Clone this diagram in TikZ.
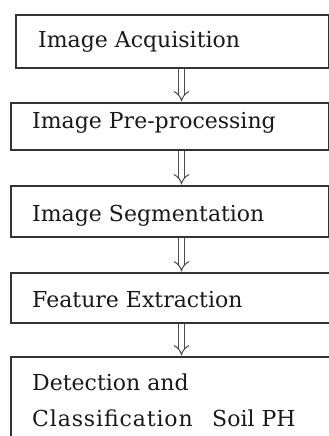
\documentclass[tikz,border=0pt]{standalone}
\usepackage{fontspec}
\setmainfont{DejaVu Serif}
\usetikzlibrary{arrows.meta}
\begin{document}
\begin{tikzpicture}[x=1pt,y=-1pt,
  stagebox/.style={draw=black!80, line width=1.6pt, anchor=north west, inner sep=0pt, rectangle},
  label/.style={anchor=base west, inner sep=0pt, font=\fontsize{22}{25}\selectfont, text=black!90},
  flow/.style={draw=black!70, line width=1pt, double=white, double distance=4.5pt, -{Implies}, shorten >=0.5pt}
]
\useasboundingbox (0,0) rectangle (329,436);
\clip (0,0) rectangle (329,436);
\node[stagebox, minimum width=313pt, minimum height=53pt] (b1) at (15,14) {};
\node[stagebox, minimum width=318pt, minimum height=47pt] (b2) at (10,102) {};
\node[stagebox, minimum width=318pt, minimum height=51pt] (b3) at (10,185) {};
\node[stagebox, minimum width=330pt, minimum height=50pt] (b4) at (10,272) {};
\node[stagebox, minimum width=330pt, minimum height=94pt] (b5) at (10,356) {};
\node[label] (t1) at (38,48) {Image Acquisition};
\node[label] (t2) at (32,128) {Image Pre-processing};
\node[label] (t3) at (32,221) {Image Segmentation};
\node[label] (t4) at (32,307) {Feature Extraction};
\node[label] (t5) at (32,390) {Detection and};
\node[label] (t6) at (32,426) {\addfontfeature{LetterSpace=4}Classification};
\node[label] (t7) at (212,426) {Soil PH};
\coordinate (ax) at (181.5,0);
\draw[flow] (b1.south -| ax) -- (b2.north -| ax);
\draw[flow] (b2.south -| ax) -- (b3.north -| ax);
\draw[flow] (b3.south -| ax) -- (b4.north -| ax);
\draw[flow] (b4.south -| ax) -- (b5.north -| ax);
\end{tikzpicture}
\end{document}
